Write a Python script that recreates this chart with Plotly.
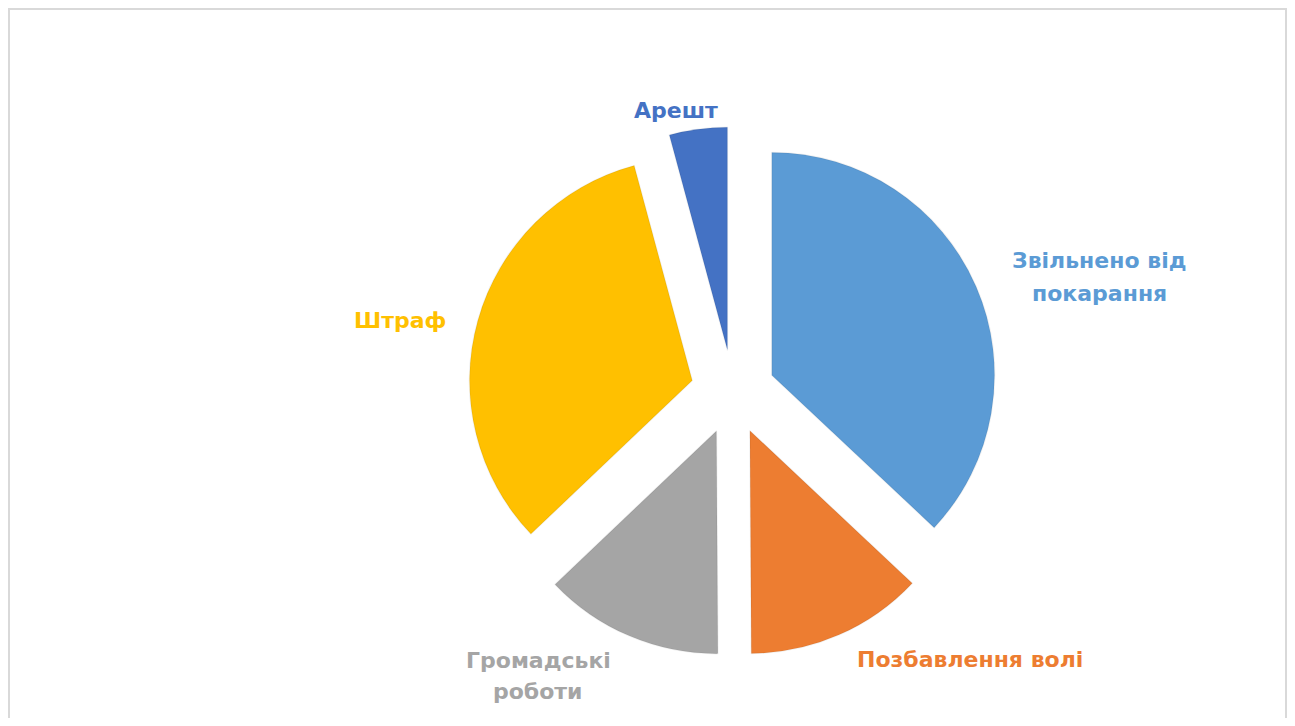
import plotly.graph_objects as go

labels = ["Звільнено від покарання", "Позбавлення волі", "Громадські роботи", "Штраф", "Арешт"]
values = [37.0, 12.9, 13.0, 32.9, 4.2]
colors = ["#5B9BD5", "#ED7D31", "#A5A5A5", "#FFC000", "#4472C4"]

# the page body has an 8px margin; the figure is sized so the page fits the window
OFF = 8
W, H = 1295 - 2 * OFF, 726 - 2 * OFF


def fx(px):
    return (px - OFF) / W


def fy(py):
    return 1 - (py - OFF) / H


cx, cy, half = 733, 392, 265
fig = go.Figure(go.Pie(
    labels=labels,
    values=values,
    sort=False,
    direction="clockwise",
    rotation=0,
    pull=[0.19] * len(values),
    marker=dict(colors=colors, line=dict(color="rgba(0,0,0,0.06)", width=1.5)),
    textinfo="none",
    hoverinfo="label+percent",
    showlegend=False,
    domain=dict(x=[fx(cx - half), fx(cx + half)], y=[fy(cy + half), fy(cy - half)]),
))

# label lines (text from labels), placed like the original outside labels
label_lines = [
    (["Звільнено від", "покарання"], 1099, [261, 293]),
    (["Позбавлення волі"], 970, [659]),
    (["Громадські", "роботи"], 538, [660, 691]),
    (["Штраф"], 400, [320]),
    (["Арешт"], 676, [110]),
]
annotations = []
for i, (lines, px, pys) in enumerate(label_lines):
    for line, py in zip(lines, pys):
        annotations.append(dict(
            text=f"<b>{line}</b>", x=fx(px), y=fy(py),
            xref="paper", yref="paper", xanchor="center", yanchor="middle",
            showarrow=False,
            font=dict(family="DejaVu Sans", size=22, color=colors[i]),
        ))

fig.update_layout(
    width=W, height=H,
    margin=dict(l=0, r=0, t=0, b=0),
    paper_bgcolor="white",
    plot_bgcolor="white",
    annotations=annotations,
    shapes=[dict(type="rect", xref="paper", yref="paper",
                 x0=1 / W, x1=1 - 1 / W, y0=-0.02, y1=1 - 1 / H,
                 line=dict(color="#d9d9d9", width=2), fillcolor="rgba(0,0,0,0)")],
)

fig.write_html("out.html")
